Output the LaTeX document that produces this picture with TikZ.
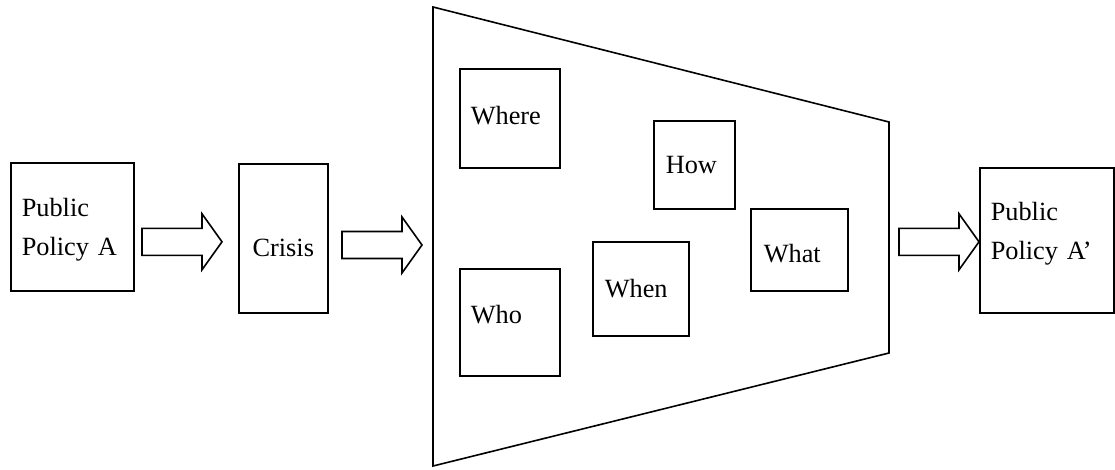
\documentclass[tikz,border=0pt]{standalone}
\usepackage{fontspec}
\setmainfont{Liberation Serif}

\begin{document}
\begin{tikzpicture}[x=1pt, y=-1pt, line width=1.6pt,
		wbox/.style={draw, anchor=north west, align=left, inner ysep=0pt,
			font=\fontsize{26.3}{39}\selectfont},
		pics/blockarrow/.style={code={
			\draw (0,0) -- (-20,-28) -- (-20,-13.5) -- (-80,-13.5)
				-- (-80,13.5) -- (-20,13.5) -- (-20,28) -- cycle;}}]
		
		\useasboundingbox (0,0) rectangle (1115,469);
		
		% ----- Ausgangslage -----
		\node[wbox, text width=101pt, inner xsep=11pt, minimum height=128pt, text height=24pt] (polA) at (10,162) {Public\\Policy A};
		\node[wbox, align=center, text width=67pt, inner xsep=11pt, minimum height=149pt, text height=37pt] (crisis) at (238,163) {Crisis};
		
		% ----- Trichter -----
		\coordinate (ftl) at (433,7);
		\coordinate (ftr) at (889,122);
		\coordinate (fbr) at (889,353);
		\coordinate (fbl) at (433,466);
		\coordinate (fin) at (433,236.5);
		\draw (ftl) -- (ftr) -- (fbr) -- (fbl) -- cycle;
		
		% Fragen
		\node[wbox, text width=78pt, inner xsep=11pt, minimum height=99pt, text depth=6pt] (where) at (459,68) {Where};
		\node[wbox, text width=57pt, inner xsep=12pt, minimum height=88pt] (how) at (653,120) {How};
		\node[wbox, text width=71pt, inner xsep=13pt, minimum height=82pt, text height=25pt] (what) at (750,208) {What};
		\node[wbox, text width=72pt, inner xsep=12pt, minimum height=94pt] (when) at (592,241) {When};
		\node[wbox, text width=78pt, inner xsep=11pt, minimum height=107pt, text depth=16pt] (who) at (459,268) {Who};
		
		% ----- Ergebnis -----
		\node[wbox, text width=112pt, inner xsep=11pt, minimum height=145pt, text depth=57pt] (polB) at (979,167) {Public\\Policy A'};
		
		% Pfeile
		\pic at ([xshift=-16pt, yshift=-3.5pt]crisis.west) {blockarrow};
		\pic at ([xshift=-11pt, yshift=-8.5pt]fin) {blockarrow};
		\pic at ([yshift=-1.5pt]polB.west) {blockarrow};
		
	\end{tikzpicture}
\end{document}
